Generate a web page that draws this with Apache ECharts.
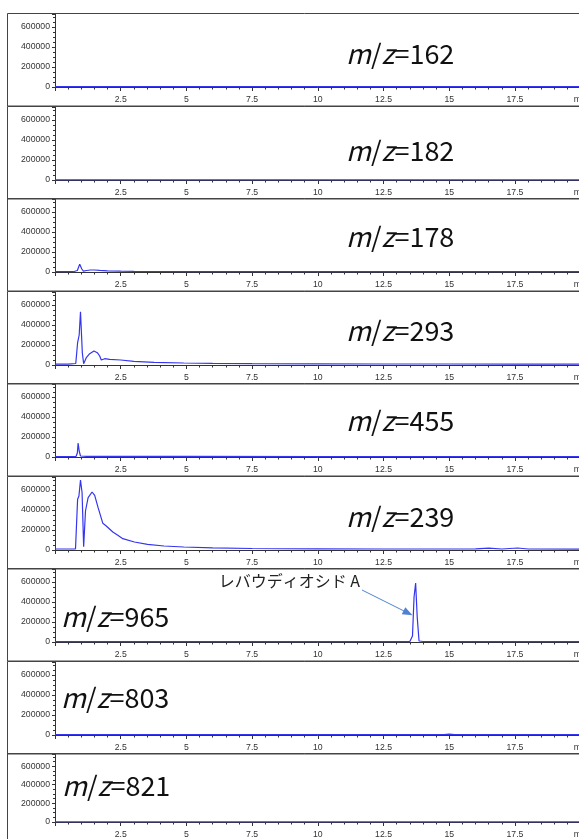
<!DOCTYPE html>
<html>
<head>
<meta charset="utf-8">
<script src="https://cdn.jsdelivr.net/npm/echarts@6/dist/echarts.min.js"></script>
<style>
  html, body { margin: 0; padding: 0; overflow: hidden; background: #fff; }
  #chart { width: 600px; height: 839px; }
</style>
</head>
<body>
<div id="chart"></div>
<script>
  // ion names, top to bottom
  var ions = ['162', '182', '178', '293', '455', '239', '965', '803', '821']

  // retention time (min) / intensity for each trace
  var t162 = [0, 5, 10, 15, 20]
  var v162 = [3000, 3000, 3000, 3000, 3000]
  var t182 = [0, 5, 10, 15, 20]
  var v182 = [2000, 2000, 2000, 2000, 2000]
  var t178 = [0, 0.7, 0.85, 0.94, 1.02, 1.08, 1.2, 1.35, 1.5, 1.7, 2.0, 2.5, 3.0, 4.0, 5.0, 7.5, 10, 15, 20]
  var v178 = [3000, 3000, 15000, 77000, 30000, 8000, 15000, 20000, 20000, 16000, 12000, 9000, 7000, 5000, 4000, 3000, 3000, 3000, 3000]
  var t293 = [0, 0.5, 0.79, 0.86, 0.92, 0.97, 1.04, 1.09, 1.19, 1.32, 1.48, 1.61, 1.7, 1.76, 1.89, 2.08, 2.5, 3.0, 3.77, 4.9, 6.0, 7.5, 10, 12.5, 15, 17.5, 20]
  var v293 = [8000, 8000, 15000, 223000, 300000, 533000, 120000, 13000, 73000, 113000, 140000, 123000, 90000, 50000, 63000, 57000, 50000, 37000, 27000, 20000, 17000, 14000, 12000, 10000, 10000, 9000, 8000]
  var t455 = [0, 0.8, 0.85, 0.88, 0.92, 0.97, 1.2, 2, 5, 10, 15, 20]
  var v455 = [5000, 5000, 40000, 140000, 60000, 10000, 7000, 6000, 6000, 5000, 5000, 5000]
  var t239 = [0, 0.6, 0.78, 0.86, 0.91, 0.97, 1.03, 1.09, 1.16, 1.26, 1.41, 1.51, 1.64, 1.82, 1.95, 2.2, 2.39, 2.58, 3.02, 3.52, 4.15, 4.9, 6, 7.5, 10, 12.5, 15, 16, 16.5, 17, 17.6, 18, 20]
  var v239 = [10000, 10000, 12000, 507000, 540000, 700000, 573000, 33000, 390000, 523000, 580000, 547000, 423000, 267000, 240000, 180000, 147000, 113000, 80000, 57000, 40000, 30000, 22000, 15000, 12000, 10000, 10000, 12000, 18000, 10000, 20000, 10000, 8000]
  var t965 = [0, 5, 10, 13.5, 13.6, 13.66, 13.72, 13.78, 13.85, 14, 15, 17.5, 20]
  var v965 = [3000, 3000, 3000, 4000, 60000, 450000, 590000, 250000, 10000, 5000, 4000, 3000, 3000]
  var t803 = [0, 10, 14.8, 15, 15.2, 20]
  var v803 = [3000, 3000, 3000, 9000, 3000, 3000]
  var t821 = [0, 5, 10, 15, 20]
  var v821 = [2000, 2000, 2000, 2000, 2000]

  var times = [t162, t182, t178, t293, t455, t239, t965, t803, t821]
  var values = [v162, v182, v178, v293, v455, v239, v965, v803, v821]

  // label position per panel: left x, offset from panel top
  var labelX = [346, 346, 346, 346, 346, 346, 61, 61, 62]
  var labelDy = [41, 45, 39, 40, 38, 41, 49, 37, 33]

  var peakName = 'レバウディオシド A'

  var tickFont = { fontFamily: 'Liberation Sans', fontSize: 8.7, color: '#333' }
  var axisColor = '#333'

  function panelTop(i) { return Math.round(13 + i * 92.5) }

  var grids = [], xAxes = [], yAxes = [], series = [], graphics = []
  for (var i = 0; i < ions.length; i++) {
    var pTop = panelTop(i)
    grids.push({ left: 55, right: 19.3, top: pTop + 1, height: 73 })
    xAxes.push({
      type: 'value', gridIndex: i, min: 0, max: 20, interval: 2.5,
      axisLine: { onZero: false, lineStyle: { color: axisColor, width: 1 } },
      axisTick: { length: 4, lineStyle: { color: axisColor } },
      minorTick: { show: true, splitNumber: 5, length: 2.5, lineStyle: { color: axisColor } },
      splitLine: { show: false },
      axisLabel: Object.assign({
        margin: 8, showMaxLabel: true, showMinLabel: true,
        formatter: function (v) { return v === 0 ? '' : (v === 20 ? 'min' : String(v)) }
      }, tickFont)
    })
    yAxes.push({
      type: 'value', gridIndex: i, min: 0, max: 730000, interval: 200000,
      axisLine: { show: true, lineStyle: { color: axisColor, width: 1 } },
      axisTick: { show: true, length: 3, lineStyle: { color: axisColor } },
      minorTick: { show: true, splitNumber: 4, length: 2, lineStyle: { color: axisColor } },
      splitLine: { show: false },
      axisLabel: Object.assign({
        margin: 5, showMaxLabel: false,
        formatter: function (v) { return String(v) }
      }, tickFont)
    })
    var pts = times[i].map(function (t, k) { return [t, values[i][k]] })
    var s = {
      type: 'line', xAxisIndex: i, yAxisIndex: i, data: pts,
      symbol: 'none', animation: false,
      lineStyle: { color: '#3535f0', width: 1.2 }
    }
    if (ions[i] === '965') {
      s.markLine = {
        silent: true, symbol: ['none', 'triangle'], symbolSize: [8, 10],
        label: { show: false },
        lineStyle: { color: '#4f81d4', width: 1, type: 'solid' },
        data: [[{ coord: [11.68, 520000] }, { coord: [13.43, 290000] }]]
      }
    }
    series.push(s)

    // panel frame
    graphics.push({
      type: 'rect', z: 100,
      shape: { x: 7.5, y: pTop + 0.5, width: 700, height: 92.5 },
      style: { fill: 'none', stroke: '#444', lineWidth: 1 }
    })
    graphics.push({
      type: 'text', z: 101, x: labelX[i], y: pTop + labelDy[i],
      style: {
        text: '{i|m}/{i|z}=' + ions[i],
        font: '27px "Noto Sans CJK JP"',
        fill: '#111',
        verticalAlign: 'middle',
        rich: { i: { fontStyle: 'italic', fontSize: 27, fontFamily: 'Noto Sans CJK JP', fill: '#111' } }
      }
    })
  }

  graphics.push({
    type: 'text', z: 101, x: 360, y: 581,
    style: {
      text: peakName, font: '16px "Noto Sans CJK JP"', fill: '#222',
      align: 'right', verticalAlign: 'middle'
    }
  })

  var chart = echarts.init(document.getElementById('chart'))
  chart.setOption({
    animation: false,
    grid: grids,
    xAxis: xAxes,
    yAxis: yAxes,
    series: series,
    graphic: graphics
  })
</script>
</body>
</html>
